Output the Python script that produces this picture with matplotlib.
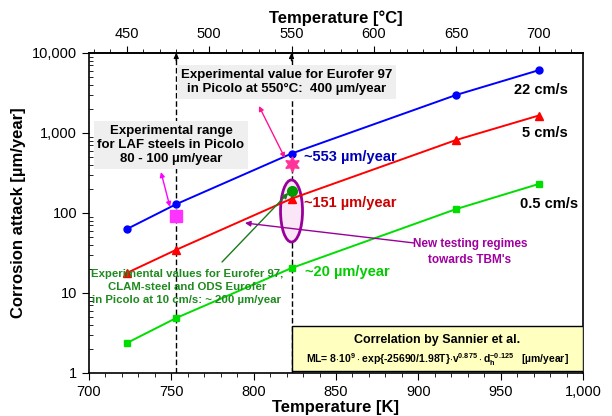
import numpy as np
import matplotlib
matplotlib.use("Agg")
import matplotlib.pyplot as plt
from matplotlib import font_manager
from matplotlib.patches import Ellipse, Rectangle
from matplotlib.ticker import FixedLocator, FuncFormatter, MultipleLocator

# data
temp_K = [723, 753, 823, 923, 973]
attack_22 = [63, 129, 553, 2990, 6080]     # 22 cm/s
attack_5 = [17.8, 34.7, 151, 818, 1650]    # 5 cm/s
attack_05 = [2.37, 4.87, 20.5, 112, 230]   # 0.5 cm/s

laf_T, laf_val = 753, 91         # LAF steels, 80 - 100
euro_T, euro_val = 823, 407      # Eurofer 97 at 550 C
v10_T, v10_val = 823, 190        # Eurofer / CLAM / ODS at 10 cm/s
regime_T = [753, 823]            # dashed lines

y_ticks = [1, 10, 100, 1000, 10000]
x_ticks = [700, 750, 800, 850, 900, 950, 1000]
c_ticks = [450, 500, 550, 600, 650, 700]

names = {f.name for f in font_manager.fontManager.ttflist}
narrow = "Liberation Sans Narrow" if "Liberation Sans Narrow" in names else "Liberation Sans"
nsize = 9.5 if narrow == "Liberation Sans Narrow" else 8.2

plt.rcParams["font.family"] = ["Liberation Sans", "DejaVu Sans"]
plt.rcParams["mathtext.fontset"] = "custom"
plt.rcParams["mathtext.rm"] = "Liberation Sans:bold"
plt.rcParams["mathtext.bf"] = "Liberation Sans:bold"
plt.rcParams["mathtext.default"] = "bf"

fig = plt.figure(figsize=(6.12, 4.16), dpi=100)
ax = fig.add_axes([0.1454, 0.1034, 0.8072, 0.7692])
ax.set_xlim(700, 1000)
ax.set_yscale("log")
ax.set_ylim(1, 10000)

# dashed reference lines with small arrows at the top
for t in regime_T:
    ax.axvline(t, color="black", ls=(0, (4, 2)), lw=1, zorder=1)
    ax.annotate("", xy=(t, 10000), xytext=(t, 8000),
                arrowprops=dict(arrowstyle="-|>", color="black", lw=1,
                                mutation_scale=7, shrinkA=0, shrinkB=0),
                zorder=2)

ax.plot(temp_K, attack_22, color="#0000ff", lw=1.4, marker="o", ms=5, zorder=4)
ax.plot(temp_K, attack_5, color="#ff0000", lw=1.4, marker="^", ms=6, zorder=4)
ax.plot(temp_K, attack_05, color="#00dd00", lw=1.4, marker="s", ms=5, zorder=4)

# ellipse around the new regimes (drawn in axes coords)
cx, cy = ax.transAxes.inverted().transform(ax.transData.transform((823, 10 ** 2.025)))
ax.add_patch(Ellipse((cx, cy), 0.0445, 0.194, transform=ax.transAxes,
                     facecolor="#fbe6f7", edgecolor="#990099", lw=2, zorder=3))

ax.plot([laf_T], [laf_val], marker="s", ms=9, color="#ff33ff", ls="none", zorder=5)
ax.plot([euro_T], [euro_val], marker=(6, 1, 0), ms=11, color="#ff3399", ls="none", zorder=5)
ax.plot([v10_T], [v10_val], marker="o", ms=7, color="#009900", ls="none", zorder=5)

bold = dict(fontweight="bold")
grey = dict(boxstyle="square,pad=0.3", facecolor="#efefef", edgecolor="none")

ax.text(820, 4340, "Experimental value for Eurofer 97\nin Picolo at 550°C:  400 µm/year",
        ha="center", va="center", fontsize=9.5, bbox=grey, zorder=6, **bold)
ax.text(749.8, 708, "Experimental range\nfor LAF steels in Picolo\n80 - 100 µm/year",
        ha="center", va="center", fontsize=9.5, bbox=grey, zorder=6, **bold)

ax.annotate("", xy=(819, 487), xytext=(803.2, 2175),
            arrowprops=dict(arrowstyle="<|-|>", color="#ff1493", lw=1,
                            mutation_scale=7, shrinkA=0, shrinkB=0), zorder=5)
ax.annotate("", xy=(749.2, 119), xytext=(743.7, 325),
            arrowprops=dict(arrowstyle="<|-|>", color="#ff00ff", lw=1,
                            mutation_scale=7, shrinkA=0, shrinkB=0), zorder=5)

ax.text(830.6, 501, "~553 µm/year", color="#0000bb", fontsize=10.5, va="center", **bold)
ax.text(830.6, 133, "~151 µm/year", color="#cc0000", fontsize=10.5, va="center", **bold)
ax.text(831, 18.3, "~20 µm/year", color="#00cc00", fontsize=10.5, va="center", **bold)

ax.text(991, 3447, "22 cm/s", ha="right", va="center", fontsize=10.5, **bold)
ax.text(991, 1000, "5 cm/s", ha="right", va="center", fontsize=10.5, **bold)
ax.text(997, 129.6, "0.5 cm/s", ha="right", va="center", fontsize=10.5, **bold)

ax.annotate("", xy=(821, 178), xytext=(780.8, 24.4),
            arrowprops=dict(arrowstyle="-|>", color="#1a7a1a", lw=1,
                            mutation_scale=8, shrinkA=0, shrinkB=0), zorder=5)
ax.text(759.5, 11.9,
        "Experimental values for Eurofer 97,\nCLAM-steel and ODS Eurofer\nin Picolo at 10 cm/s: ~ 200 µm/year",
        ha="center", va="center", color="#1f8a1f", fontsize=nsize, family=narrow,
        linespacing=1.4, zorder=6, **bold)

ax.annotate("", xy=(794.7, 75), xytext=(897.4, 42.2),
            arrowprops=dict(arrowstyle="-|>", color="#990099", lw=1,
                            mutation_scale=8, shrinkA=0, shrinkB=0), zorder=5)
ax.text(931.4, 32.5, "New testing regimes\ntowards TBM's", ha="center", va="center",
        color="#a000a0", fontsize=nsize + 0.3, family=narrow, linespacing=1.5, **bold)

# correlation box
x0 = ax.transAxes.inverted().transform(ax.transData.transform((823, 1)))[0]
ax.add_patch(Rectangle((x0, 0.006), 1 - x0, 0.141, transform=ax.transAxes,
                       facecolor="#ffffc0", edgecolor="black", lw=1, zorder=7))
xm = (x0 + 1) / 2
ax.text(xm, 0.103, "Correlation by Sannier et al.", transform=ax.transAxes,
        ha="center", va="center", fontsize=9, zorder=8, **bold)
ax.text(xm, 0.043,
        r"ML= 8$\cdot$10$^{9}\cdot$exp{-25690/1.98T}$\cdot$v$^{0.875}\cdot$d$_{h}^{-0.125}$   [µm/year]",
        transform=ax.transAxes, ha="center", va="center", fontsize=7.5, zorder=8, **bold)

# axes formatting
ax.xaxis.set_major_locator(FixedLocator(x_ticks))
ax.xaxis.set_minor_locator(MultipleLocator(10))
ax.xaxis.set_major_formatter(FuncFormatter(lambda v, p: f"{v:,.0f}"))
ax.yaxis.set_major_locator(FixedLocator(y_ticks))
ax.yaxis.set_major_formatter(FuncFormatter(lambda v, p: f"{v:,.0f}"))
ax.tick_params(axis="x", which="major", direction="out", length=5, labelsize=10.5)
ax.tick_params(axis="x", which="minor", direction="out", length=3)
ax.tick_params(axis="y", which="major", direction="out", length=5, labelsize=10.5)
ax.tick_params(axis="y", which="minor", direction="in", length=3)
for s in ax.spines.values():
    s.set_linewidth(1.2)

ax.set_xlabel("Temperature [K]", fontsize=12, fontweight="bold", labelpad=1)
ax.set_ylabel("Corrosion attack [µm/year]", fontsize=12, fontweight="bold", labelpad=4)

top = ax.secondary_xaxis("top", functions=(lambda k: k - 273, lambda c: c + 273))
top.xaxis.set_major_locator(FixedLocator(c_ticks))
top.xaxis.set_minor_locator(MultipleLocator(10))
top.tick_params(axis="x", which="major", direction="out", length=5, labelsize=10.5)
top.tick_params(axis="x", which="minor", direction="out", length=3)
top.spines["top"].set_linewidth(1.2)
top.set_xlabel("Temperature [°C]", fontsize=12, fontweight="bold", labelpad=3)

fig.savefig("out.png", dpi=100)
